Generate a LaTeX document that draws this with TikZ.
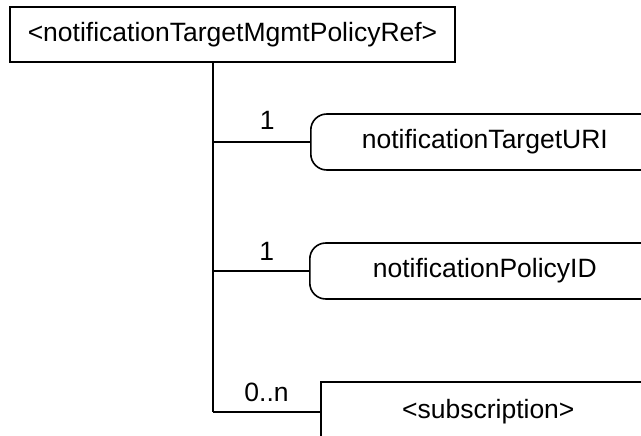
\documentclass[tikz,border=0pt]{standalone}
\usepackage{fontspec}
\setmainfont{Liberation Sans}
\usepackage{tikz}
\usetikzlibrary{positioning}
\tikzset{
  caja/.style={rectangle, draw=black, line width=1.6pt, align=center,
    inner sep=0pt, font=\fontsize{26.5}{31}\selectfont},
  cajar/.style={caja, rounded corners=16pt},
  linea/.style={line width=1.6pt, draw=black},
  etq/.style={inner sep=0pt, font=\fontsize{26.5}{31}\selectfont},
}
\begin{document}
\begin{tikzpicture}[x=1pt, y=-1pt]
  \clip (0,0) rectangle (641,436);
  \node[caja, minimum width=445pt, minimum height=55pt] (ref) at (232.5,34.5) {<notificationTargetMgmtPolicyRef>};
  \coordinate (t0) at (213,62);
  \coordinate (t1) at (213,142);
  \coordinate (t2) at (213,271);
  \coordinate (t3) at (213,412);
  \node[cajar, right=97pt of t1, minimum width=348pt, minimum height=56pt] (uri) {notificationTargetURI};
  \node[cajar, right=96pt of t2, minimum width=350pt, minimum height=56pt] (pol) {notificationPolicyID};
  \node[caja, right=107pt of t3, minimum width=335pt, minimum height=60pt] (subs) {<subscription>};
  \draw[linea] (t0) -- (t3);
  \draw[linea] (t1) -- node[etq, pos=0.56, above=12pt] {1} (uri);
  \draw[linea] (t2) -- node[etq, pos=0.56, above=10pt] {1} (pol);
  \draw[linea] (t3) -- node[etq, above=9pt] {0..n} (subs);
\end{tikzpicture}
\end{document}
